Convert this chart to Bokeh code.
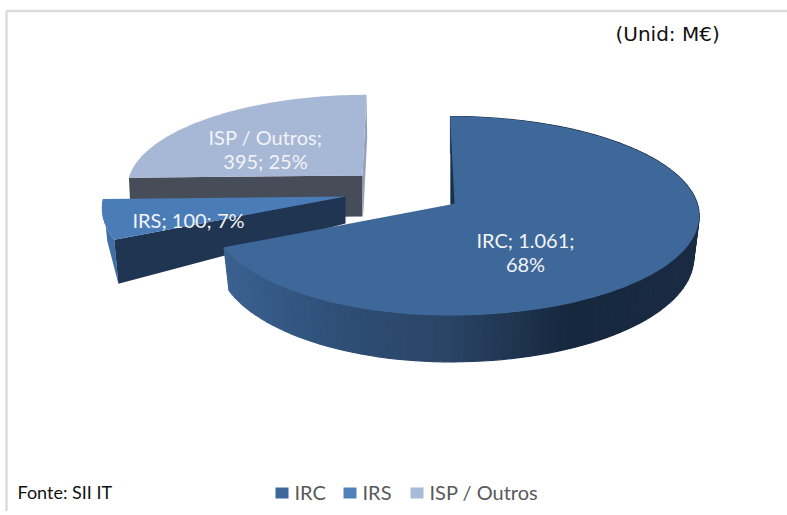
import numpy as np
from bokeh.plotting import figure
from bokeh.models import Range1d, ColumnDataSource
from bokeh.embed import file_html
from bokeh.resources import INLINE
from bokeh.core.properties import value

categories = ["IRC", "IRS", "ISP / Outros"]
values = [1061, 100, 395]
labels = ["IRC; 1.061;\n68%", "IRS; 100; 7%", "ISP / Outros;\n395; 25%"]
top_colors = ["#3e6899", "#4a7cb8", "#a7b7d6"]
legend_colors = ["#3e6899", "#4f81bd", "#a9b9d8"]
source_note = "Fonte: SII IT"
unit_note = "(Unid: M€)"

OX, OY, W, H = 4, 6, 783, 505
p = figure(width=W, height=H, output_backend="svg", toolbar_location=None,
           x_range=Range1d(OX, OX + W), y_range=Range1d(OY + H, OY),
           min_border=0, outline_line_color=None, background_fill_color="white",
           x_axis_location=None, y_axis_location=None,
           margin=(6, 0, 0, 4))
p.grid.visible = False

# border of the chart frame
p.line([6, 6, 787], [511, 10.5, 10.5], line_color="#dcdcdc", line_width=2.5)

# cumulative clockwise angles from the top, from the values
total = sum(values)
cuts = np.concatenate([[0], np.cumsum(values)]) / total * 2 * np.pi
K = 0.1156


def rim(theta, cx, cy, rx_l, rx_r, ry):
    X, Y = np.sin(theta), np.cos(theta)
    f = 1 / (1 + K * Y)
    rx = np.where(X < 0, rx_l, rx_r)
    return cx + rx * X * f, cy - ry * Y * f, f


def hexmix(stops, x):
    xs = [s[0] for s in stops]
    out = []
    for c in range(3):
        out.append(np.interp(x, xs, [int(s[1][1 + 2 * c:3 + 2 * c], 16) for s in stops]))
    return ["#%02x%02x%02x" % (int(r), int(g), int(b)) for r, g, b in zip(*out)]


# ---- ISP / Outros (drawn first, furthest back)
th = np.linspace(cuts[2], cuts[3], 80)
cx, cy = 362, 175
x, y, f = rim(th, cx, cy, 233, 233, 90)
x = x + 4 * np.clip(np.cos(th), 0, 1)
# side sliver on the right
p.patch([x[-1], x[-1] + 0.7, cx + 0.7, cx], [y[-1], y[-1] + 43, cy + 41, cy],
        fill_color="#94a2bd", line_color=None)
p.patch([x[0], cx, cx, x[0] + 2], [y[0], cy, cy + 41, y[0] + 41],
        fill_color="#464c58", line_color=None)
p.patch(np.r_[cx, x], np.r_[cy, y], fill_color=top_colors[2], line_color=None)

# ---- IRS
th = np.linspace(cuts[1], cuts[2], 40)
cx, cy = 345, 196
x, y, f = rim(th, cx, cy, 242, 242, 99)
fx = cx + (x - cx) * 0.982
fy = y + 42 * f
p.patch(np.r_[x, fx[-1], fx[0]], np.r_[y, fy[-1], fy[0]], fill_color="#3f6fa8", line_color=None)
p.patch([x[0], cx, cx, fx[0]], [y[0], cy, cy + 27, fy[0]], fill_color="#203551", line_color=None)
p.patch(np.r_[cx, x], np.r_[cy, y], fill_color=top_colors[1], line_color=None)

# ---- IRC
th = np.linspace(cuts[0], cuts[1], 120)
cx, cy = 450, 204
x, y, f = rim(th, cx, cy, 237, 247, 98.2)
fx = cx + (x - cx) * 0.978
fy = y + 41 * f
stops = [(228, "#3b6190"), (330, "#2f5078"), (450, "#2a4465"), (570, "#16283e"), (700, "#1b2c44")]
cols = hexmix(stops, (x[:-1] + x[1:]) / 2)
wall = ColumnDataSource(dict(
    xs=[[x[i], x[i + 1], fx[i + 1], fx[i]] for i in range(len(cols))],
    ys=[[y[i], y[i + 1], fy[i + 1], fy[i]] for i in range(len(cols))],
    c=cols))
p.patches("xs", "ys", source=wall, fill_color="c", line_color="c", line_width=1.2)
p.patch(np.r_[cx, x], np.r_[cy, y], fill_color=top_colors[0], line_color=None)
# inner wall sliver beside the start radius
p.patch([x[0], cx, cx + 4], [y[0] + 8, cy, cy - 1], fill_color="#1b3048", line_color=None)

# ---- data labels
p.text([525, 188, 265], [251, 219, 148], text=labels, text_color="#f2f4f8",
       text_font=value("Lato"), text_font_size="20px",
       text_align="center", text_baseline="middle", text_line_height=1.0)

# ---- notes
p.text([17], [491], text=[source_note], text_color="#111111", text_font=value("Lato"),
       text_font_size="18px", text_baseline="middle")
p.text([615], [33], text=[unit_note], text_color="#111111", text_font=value("DejaVu Sans"),
       text_font_size="20px", text_baseline="middle")

# ---- legend
lx = [275, 343, 410]
tx = [294, 362, 429]
p.quad(left=lx, right=[v + 13 for v in lx], top=[487] * 3, bottom=[498] * 3,
       fill_color=legend_colors, line_color=None)
p.text(tx, [491] * 3, text=categories, text_color="#595959", text_font=value("Lato"),
       text_font_size="20px", text_baseline="middle")

open("out.html", "w").write(file_html(p, INLINE))
